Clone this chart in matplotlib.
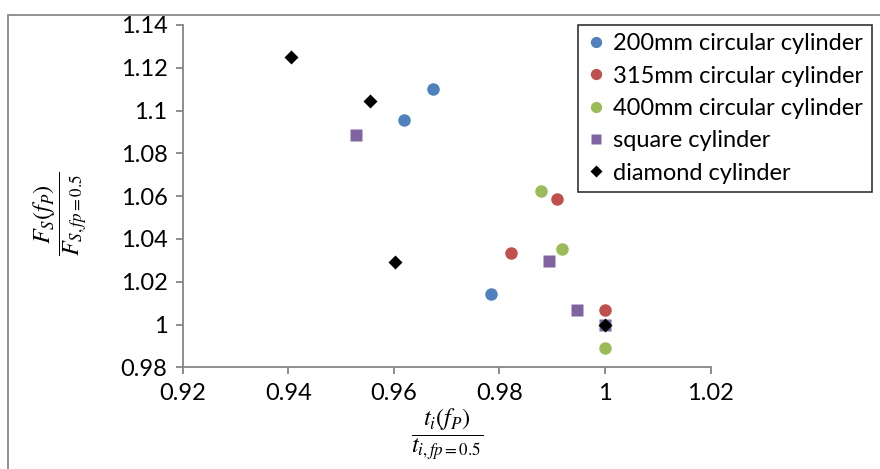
import matplotlib
matplotlib.use("Agg")
import matplotlib.pyplot as plt
from matplotlib.patches import Rectangle

plt.rcParams['font.family'] = ['Lato', 'DejaVu Sans']
plt.rcParams['mathtext.fontset'] = 'stix'

# Data
x_200 = [0.9674, 0.9620, 0.9783]
y_200 = [1.1102, 1.0955, 1.0142]
x_315 = [0.9909, 0.9821, 1.0]
y_315 = [1.0586, 1.0336, 1.0067]
x_400 = [0.9879, 0.9919, 1.0]
y_400 = [1.0626, 1.0352, 0.9892]
x_sq = [0.9528, 0.9894, 0.9946, 1.0]
y_sq = [1.0885, 1.0299, 1.0067, 1.0]
x_dia = [0.9405, 0.9554, 0.9603, 1.0]
y_dia = [1.1252, 1.1043, 1.0291, 1.0]

labels = ["200mm circular cylinder", "315mm circular cylinder",
          "400mm circular cylinder", "square cylinder", "diamond cylinder"]
xticks = [0.92, 0.94, 0.96, 0.98, 1.0, 1.02]
xticklabels = ["0.92", "0.94", "0.96", "0.98", "1", "1.02"]
yticks = [0.98, 1.0, 1.02, 1.04, 1.06, 1.08, 1.1, 1.12, 1.14]
yticklabels = ["0.98", "1", "1.02", "1.04", "1.06", "1.08", "1.1", "1.12", "1.14"]

W, H = 880, 469
fig = plt.figure(figsize=(W / 100, H / 100), dpi=100)
ax = fig.add_axes([182.7 / W, 1 - 367.3 / H, 528 / W, 342.3 / H])

# outer chart frame
fig.patches.append(Rectangle((8 / W, -0.2), 1.2, 1.2 - 15 / H,
                             transform=fig.transFigure, fill=False,
                             edgecolor='#898989', linewidth=1.3))

ms_c = 9
ax.plot(x_200, y_200, 'o', color='#4F81BD', ms=ms_c, mec='none', label=labels[0])
ax.plot(x_315, y_315, 'o', color='#C0504D', ms=ms_c, mec='none', label=labels[1])
ax.plot(x_400, y_400, 'o', color='#9BBB59', ms=ms_c, mec='none', label=labels[2])
ax.plot(x_sq, y_sq, 's', color='#8064A2', ms=8.5, mec='none', label=labels[3])
ax.plot(x_dia, y_dia, 'D', color='black', ms=6.8, mec='none', label=labels[4])

ax.set_xlim(0.92, 1.02)
ax.set_ylim(0.98, 1.14)
ax.set_xticks(xticks)
ax.set_xticklabels(xticklabels)
ax.set_yticks(yticks)
ax.set_yticklabels(yticklabels)

for s in ['top', 'right']:
    ax.spines[s].set_visible(False)
for s in ['left', 'bottom']:
    ax.spines[s].set_color('#868686')
    ax.spines[s].set_linewidth(1.3)
ax.tick_params(axis='both', direction='out', length=5, width=1.3,
               color='#868686', labelsize=17, labelcolor='black', pad=6)
ax.patch.set_alpha(0)

fig.text(447 / W, 1 - 435 / H, r'$\dfrac{t_i(f_P)}{t_{i,fp=0.5}}$',
         fontsize=17.5, ha='center', va='center')
fig.text(61 / W, 1 - 214 / H, r'$\dfrac{F_S(f_P)}{F_{S,fp=0.5}}$',
         fontsize=17.5, ha='center', va='center', rotation=90)

leg = fig.legend(loc='upper left', bbox_to_anchor=(578 / W, 1 - 25 / H),
                 bbox_transform=fig.transFigure, borderaxespad=0,
                 fontsize=17, frameon=True, fancybox=False,
                 handlelength=0.8, handletextpad=0.35, labelspacing=0.48,
                 borderpad=0.35, markerscale=0.9)
leg.get_frame().set_edgecolor('black')
leg.get_frame().set_linewidth(1.2)

fig.savefig('out.png', dpi=100)
